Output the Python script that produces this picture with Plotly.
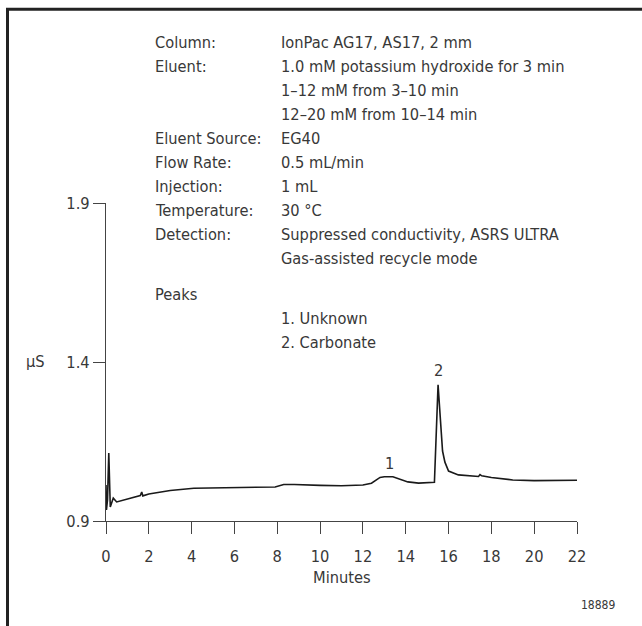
import plotly.graph_objects as go

# ---- data ----
minutes = [0.00, 0.02, 0.07, 0.13, 0.20, 0.34, 0.50, 1.00, 1.60, 1.67, 1.72, 2.00, 2.60, 3.00,
           4.10, 5.50, 7.00, 7.90, 8.30, 8.80, 10.0, 11.0, 12.0, 12.4, 12.8, 13.0, 13.4, 13.7,
           14.1, 14.6, 15.0, 15.28, 15.34, 15.51, 15.64, 15.72, 15.83, 16.00, 16.46, 17.0,
           17.4, 17.47, 17.55, 18.0, 19.0, 20.0, 21.0, 22.0]
signal_uS = [1.013, 0.935, 0.966, 1.114, 0.944, 0.972, 0.960, 0.969, 0.980, 0.991, 0.979, 0.985,
             0.992, 0.996, 1.003, 1.005, 1.005, 1.007, 1.015, 1.015, 1.012, 1.011, 1.013, 1.019,
             1.037, 1.039, 1.039, 1.032, 1.023, 1.019, 1.021, 1.024, 1.022, 1.328, 1.200, 1.120,
             1.085, 1.057, 1.045, 1.041, 1.040, 1.046, 1.042, 1.037, 1.029, 1.027, 1.027, 1.028]

x_ticks = [0, 2, 4, 6, 8, 10, 12, 14, 16, 18, 20, 22]
y_ticks = [0.9, 1.4, 1.9]

peak_labels = ["1", "2"]
peak_times = [13.25, 15.52]
peak_label_values = [1.082, 1.374]

cond_labels = ["Column:", "Eluent:", "", "", "Eluent Source:", "Flow Rate:", "Injection:",
               "Temperature:", "Detection:", ""]
cond_values = ["IonPac AG17, AS17, 2 mm", "1.0 mM potassium hydroxide for 3 min",
               "1\u201312 mM from 3\u201310 min", "12\u201320 mM from 10\u201314 min", "EG40",
               "0.5 mL/min", "1 mL", "30 \u00b0C", "Suppressed conductivity, ASRS ULTRA",
               "Gas-assisted recycle mode"]
peaks_heading = "Peaks"
peak_names = ["1. Unknown", "2. Carbonate"]

# ---- layout geometry (pixels) ----
W, H = 642, 626
L, R, T, B = 106, 577, 202.5, 521
FONT = "DejaVu Sans Condensed, Liberation Sans Narrow, sans-serif"
FS = 16.3
TXT = "#383838"

def px(x):
    return (x - L) / (R - L)

def py(y):
    return (B - y) / (B - T)

fig = go.Figure()
fig.add_trace(go.Scatter(x=minutes, y=signal_uS, mode="lines",
                         line=dict(color="#1a1a1a", width=1.6), showlegend=False,
                         hoverinfo="skip"))

ann = []
for i, (lab, val) in enumerate(zip(cond_labels, cond_values)):
    yy = 41.7 + 24 * i
    if lab:
        ann.append(dict(x=px(153), y=py(yy), text=lab))
    ann.append(dict(x=px(279), y=py(yy), text=val))
ann.append(dict(x=px(153), y=py(294), text=peaks_heading))
for i, nm in enumerate(peak_names):
    ann.append(dict(x=px(279), y=py(318 + 24 * i), text=nm))
for a in ann:
    a.update(xref="paper", yref="paper", xanchor="left", yanchor="middle", showarrow=False,
             font=dict(family=FONT, size=FS, color=TXT))

for lab, t, v in zip(peak_labels, peak_times, peak_label_values):
    ann.append(dict(x=t, y=v, xref="x", yref="y", text=lab, showarrow=False,
                    xanchor="center", yanchor="middle",
                    font=dict(family=FONT, size=FS, color=TXT)))

ann.append(dict(x=px(35), y=py(361), xref="paper", yref="paper", text="\u03bcS",
                showarrow=False, xanchor="center", yanchor="middle",
                font=dict(family=FONT, size=FS, color=TXT)))
ann.append(dict(x=px(341.5), y=py(578), xref="paper", yref="paper", text="Minutes",
                showarrow=False, xanchor="center", yanchor="middle",
                font=dict(family=FONT, size=FS, color=TXT)))
ann.append(dict(x=px(598), y=py(605), xref="paper", yref="paper", text="18889",
                showarrow=False, xanchor="center", yanchor="middle",
                font=dict(family=FONT, size=12, color=TXT)))

shapes = [
    dict(type="line", xref="paper", yref="paper", x0=px(7.5), x1=px(7.5), y0=py(8.5), y1=py(640),
         line=dict(color="#222222", width=3)),
    dict(type="line", xref="paper", yref="paper", x0=px(6), x1=px(660), y0=py(8.5), y1=py(8.5),
         line=dict(color="#222222", width=3)),
]

axis_common = dict(showgrid=False, zeroline=False, showline=True, linecolor="#444444",
                   linewidth=1.2, ticks="outside", ticklen=12, tickcolor="#444444",
                   tickwidth=1.2, tickfont=dict(family=FONT, size=FS, color=TXT))

fig.update_layout(
    width=W, height=H, autosize=False,
    margin=dict(l=L, r=W - R, t=T, b=H - B, pad=0),
    paper_bgcolor="white", plot_bgcolor="white",
    xaxis=dict(range=[0, 22], tickvals=x_ticks, ticktext=[str(v) for v in x_ticks],
               ticklabelstandoff=8, **axis_common),
    yaxis=dict(range=[0.9, 1.9], tickvals=y_ticks, ticktext=["0.9", "1.4", "1.9"],
               ticklabelstandoff=0, **axis_common),
    annotations=ann, shapes=shapes, showlegend=False,
)

fig.write_html("out.html", config={"displayModeBar": False},
               post_script="document.body.style.margin='0';")
